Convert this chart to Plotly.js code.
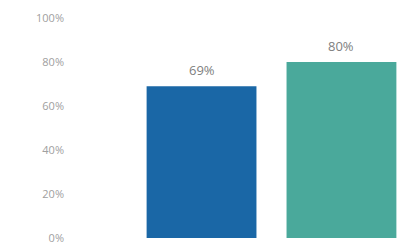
<!DOCTYPE html>
<html><head><meta charset="utf-8">
<script src="https://cdn.plot.ly/plotly-3.0.1.min.js"></script>
<style>html,body{margin:0;padding:0;background:#fff;}#chart{width:398px;height:248px;}</style>
</head><body><div id="chart"></div>
<script>
const categories = ["A", "B"];
const values = [69, 80];
const barColors = ["#1a67a6", "#4aa99b"];
const labels = ["69%", "80%"];
const yTickVals = [0, 20, 40, 60, 80, 100];
const yTickText = ["0%", "20%", "40%", "60%", "80%", "100%"];

const trace = {
  type: "bar",
  x: categories,
  y: values,
  marker: {color: barColors},
  width: 0.785,
  hoverinfo: "none"
};
const annotations = categories.map((c, i) => ({
  x: c, y: values[i], xref: "x", yref: "y",
  text: labels[i], showarrow: false, yanchor: "bottom", yshift: 5,
  font: {family: "Open Sans, DejaVu Sans, sans-serif", size: 13, color: "#808080"}
}));
const layout = {
  width: 398, height: 248,
  margin: {l: 70, r: 0, t: 18, b: 10},
  paper_bgcolor: "#fff", plot_bgcolor: "#fff",
  showlegend: false,
  xaxis: {range: [-0.94, 1.404], showticklabels: false, showgrid: false, zeroline: false, showline: false, ticks: ""},
  yaxis: {range: [0, 100], tickvals: yTickVals, ticktext: yTickText, showgrid: false, zeroline: false, showline: false,
          ticks: "", ticklabelstandoff: 5,
          tickfont: {family: "Open Sans, DejaVu Sans, sans-serif", size: 11, color: "#a0a0a0"}},
  annotations: annotations
};
Plotly.newPlot("chart", [trace], layout, {displayModeBar: false, staticPlot: true});
</script></body></html>
